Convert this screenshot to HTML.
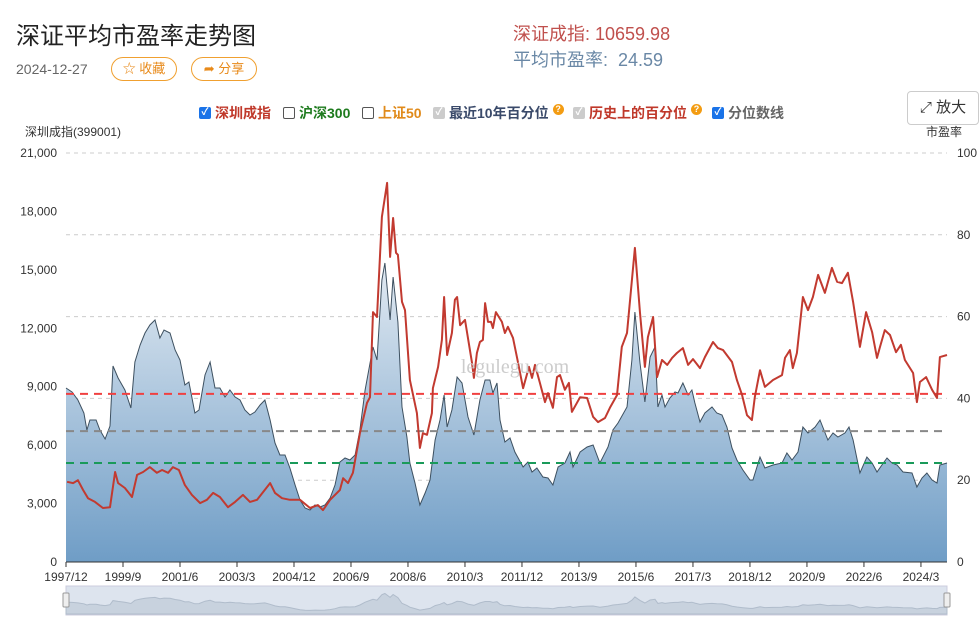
<!DOCTYPE html>
<html><head><meta charset="utf-8">
<style>
body{margin:0;width:979px;height:623px;overflow:hidden;background:#fff;font-family:"Liberation Sans","Noto Sans CJK SC",sans-serif;position:relative}
.abs{position:absolute}
.btn{position:absolute;border:1px solid #f0a030;border-radius:12px;color:#e88a1a;font-size:13px;height:22px;line-height:22px;text-align:center}
.lg{position:absolute;top:103px;font-size:14px;font-weight:bold;display:flex;align-items:center;gap:4px}
.cb{width:12px;height:12px;border:1px solid #555;border-radius:2px;display:inline-block;box-sizing:border-box}
.cb.on{background:#1a73e8;border-color:#1a73e8;color:#fff;font-size:10px;line-height:10px;text-align:center}
.cb.dis{background:#ccc;border-color:#ccc;color:#fff;font-size:10px;line-height:10px;text-align:center}
.q{display:inline-block;width:11px;height:11px;border-radius:6px;background:#f39c12;color:#fff;font-size:9px;line-height:11px;text-align:center;margin-top:-8px}
</style></head><body>
<div class="abs" style="left:16px;top:16px;font-size:24px;color:#222">深证平均市盈率走势图</div>
<div class="abs" style="left:16px;top:61px;font-size:14px;color:#666">2024-12-27</div>
<div class="btn" style="left:111px;top:57px;width:64px">☆ 收藏</div>
<div class="btn" style="left:191px;top:57px;width:64px">➦ 分享</div>
<div class="abs" style="left:513px;top:20px;font-size:18px;color:#c0504d">深证成指: 10659.98</div>
<div class="abs" style="left:513px;top:46px;font-size:18px;color:#6a88a6">平均市盈率:&nbsp; 24.59</div>
<div class="abs" style="left:907px;top:91px;width:70px;height:32px;border:1px solid #ccc;border-radius:4px;font-size:15px;line-height:32px;text-align:center;color:#333">⤢ 放大</div>
<div class="lg" style="left:199px;color:#c0392b"><span class="cb on">✓</span>深圳成指</div>
<div class="lg" style="left:283px;color:#1e7b1e"><span class="cb"></span>沪深300</div>
<div class="lg" style="left:362px;color:#e08a1a"><span class="cb"></span>上证50</div>
<div class="lg" style="left:433px;color:#3a4a6a"><span class="cb dis">✓</span>最近10年百分位<span class="q">?</span></div>
<div class="lg" style="left:573px;color:#c0392b"><span class="cb dis">✓</span>历史上的百分位<span class="q">?</span></div>
<div class="lg" style="left:712px;color:#666"><span class="cb on">✓</span>分位数线</div>
<div class="abs" style="left:25px;top:123px;font-size:12px;color:#333">深圳成指(399001)</div>
<div class="abs" style="left:926px;top:123px;font-size:12px;color:#333">市盈率</div>
<svg id="c" class="abs" style="left:0;top:0" width="979" height="623"></svg>
<script>
const idxMonths=[0,2.2,4.4,6.6,7.7,8.8,11.1,12.5,14.4,16.2,17.3,19.2,21.7,23.9,25.4,27.3,29.1,30.9,32.8,34.6,36.1,38.3,40.2,42,43.8,45.3,47.5,49,51.2,53.1,54.9,56.7,58.6,60.4,62.3,64.1,65.9,67.8,69.6,71.5,73.3,75.2,77,78.8,80.7,82.5,84.4,86.2,88.1,89.9,91.7,93.6,95.4,97.3,99.1,100.9,102.8,104.6,106.5,108.3,110.2,113.1,114.6,116.4,117.5,119.4,120.5,122.3,123.8,125.6,126.7,128.6,130.4,132.3,134.1,136,137.8,139.3,140.4,142.2,144.1,145.9,148.1,150.3,152.5,154.4,156.2,157.3,158.8,159.9,161.7,163.6,165.4,168.4,170.2,171.7,173.5,175.7,177.6,179.4,181.3,183.8,185.7,186.8,189.4,192,194.2,196.7,199.7,201.5,203.4,206.7,208.5,209.6,211.5,213.3,215.2,217,218.1,219.6,220.7,222.5,224.4,225.5,227.3,229.2,230.6,231.7,233.6,235.4,238,239.8,241.7,243.5,245.4,247.2,249.4,252,253.1,255.7,257.5,260.5,263.8,265.6,267.5,269.7,271.5,273.4,276,277.8,280.7,282.6,284.4,287,288.5,290,292.5,295.1,297,298.8,300.6,302.5,304.3,306.2,308.4,311.7,313.5,315.4,317.2,319.1,320.9,322,324.6];
const idxValues=[8933,8728,8317,7650,6777,7290,7290,6777,6315,6982,10063,9446,8830,7906,10268,11141,11757,12168,12424,11500,11911,11757,10884,10371,9087,9241,7650,7804,9601,10268,8933,8933,8471,8830,8471,8317,7804,7547,7701,8060,8317,7290,6109,5493,5493,4826,3953,3183,2772,2670,2926,2824,2926,3286,3953,5134,5339,5237,5493,6777,8830,11038,10371,14478,15351,12424,14632,12322,7958,6418,5083,4056,2926,3543,4210,6263,7290,8574,6931,7804,9498,9190,7444,6520,8317,9344,9344,8676,9190,7290,6161,6366,5647,4877,5134,4621,4826,4364,4313,3953,4877,5083,5647,4877,5647,5904,6007,5083,5904,6777,7136,7958,10371,12835,10217,8214,10525,11038,7958,8574,7958,8420,8728,8676,9190,8574,8830,8163,7188,7650,7958,7650,7547,6931,5853,5237,4723,4210,4210,5391,4826,4980,5083,5596,5237,5647,6931,6623,6931,7290,6263,6623,6418,6623,6931,6263,4569,5391,5083,4621,4980,5339,5083,4980,4621,4569,3851,4313,4569,4210,4056,4980,5083];
const peMonths=[0.4,2.6,4.4,6.3,8.1,10.7,13.6,16.2,18.1,19.2,21.7,24.3,26.2,28.4,30.9,33.5,35.4,37.6,39.4,41.6,43.8,46.4,49.4,51.9,54.2,56.7,59.7,62.3,65.2,67.8,70.4,75.2,77,79.6,82.5,86.2,89.9,92.8,94.7,97.3,100.9,102.1,103.9,105.7,108.3,110.9,112,113.1,114.6,116.4,118.3,119.4,120.5,121.6,122.3,123.8,124.9,126.7,129.3,130.4,131.5,133,134.8,135.2,137.1,138.5,139.3,140.4,142.2,143.3,144.1,145.2,147,149.6,150.3,151.4,152.5,153.6,154.4,155.5,156.6,157.3,158.4,160.6,161.7,162.8,164.7,166.2,168.4,170.6,171.7,172.8,174.6,176.5,177.6,179.4,180.9,182,183.8,185.3,186.4,189.4,192,194.2,196,198.6,200.4,203,204.8,206.7,209.6,211.5,213.3,214.4,216.3,217.8,219.6,221.5,223.3,225.1,227.3,229.2,231,233.6,235.4,238.4,240.2,242.1,245.4,247.2,249.1,250.9,252.7,253.8,255.7,257.5,260.5,263.8,264.9,266.7,267.8,269.3,271.5,273.4,275.2,277.1,279.6,282.2,284.1,285.9,288.1,290,292.5,294.8,297,298.8,299.9,301.7,303.6,305.8,307.6,309.1,312.1,313.5,314.6,316.9,319.1,320.9,322,324.6];
const peValues=[19.6,19.3,20,17.6,15.6,14.7,13.2,13.4,22,19.3,18.1,15.9,21.3,22,23.2,21.8,22.5,21.8,23.2,22.5,18.8,16.4,14.4,15.2,16.9,15.9,13.4,14.7,16.4,14.7,15.2,19.3,16.9,15.6,15.2,15.2,13.2,13.9,12.7,15.2,17.6,20.5,19.3,21.8,31.5,38.9,40.3,61.1,59.9,84.4,92.7,74.6,84.1,75.6,75.1,63.6,61.6,44.5,36.4,27.9,31.5,31.1,36.4,42.5,47.7,54.3,64.8,50.6,56,64.1,64.8,57.9,59.2,48.7,45,51.1,53.8,54.3,63.3,58.7,58.7,57.2,61.1,58.7,56,57.5,54.8,49.9,42.5,47.7,45,48.2,43.8,39.1,41.3,37.7,45.2,45.7,42.1,43.8,36.7,40.3,40.1,35.5,34.2,35.2,37.7,40.8,52.6,56,76.8,60.9,47.7,55,59.9,45.2,49.4,48.2,49.9,51.1,52.3,48.2,49.6,47.4,50.1,53.8,52.3,51.8,48.9,44.5,40.8,35.9,34.7,40.3,46.9,42.8,44.5,45.7,49.9,51.8,47.4,51.1,64.8,61.6,64.8,70.2,65.8,71.9,68.5,68.2,70.7,63.6,52.6,61.1,56.2,49.9,52.6,56.7,55.5,51.3,53.1,49.4,46.2,39.1,44,45.2,42.1,40.1,50.1,50.6];
const pctLines=[41.1,32.0,24.2];
const pctColors=['#f04040','#888','#1a9a5a'];
const leftTicks=[0,3000,6000,9000,12000,15000,18000,21000];
const rightTicks=[0,20,40,60,80,100];
const xLabels=['1997/12','1999/9','2001/6','2003/3','2004/12','2006/9','2008/6','2010/3','2011/12','2013/9','2015/6','2017/3','2018/12','2020/9','2022/6','2024/3'];
const xLabelMonths=[0,21,42,63,84,105,126,147,168,189,210,231,252,273,294,315];

const X0=66,X1=947,Y0=562,Y1=153,TOTAL=324.6;
const xs=m=>X0+(X1-X0)*m/TOTAL;
const yl=v=>Y0-(Y0-Y1)*v/21000;
const yr=v=>Y0-(Y0-Y1)*v/100;
const svg=document.getElementById('c');const NS='http://www.w3.org/2000/svg';
function mk(t,a){const e=document.createElementNS(NS,t);for(const k in a)e.setAttribute(k,a[k]);svg.appendChild(e);return e;}
svg.innerHTML='<defs><linearGradient id="g" x1="0" y1="0" x2="0" y2="1"><stop offset="0" stop-color="#e2eaf2"/><stop offset="1" stop-color="#6f9dc6"/></linearGradient><linearGradient id="g2" x1="0" y1="0" x2="0" y2="1"><stop offset="0" stop-color="#e8edf3"/><stop offset="1" stop-color="#d8e0ea"/></linearGradient></defs>';
rightTicks.forEach(v=>{
 const g=mk('line',{x1:X0,x2:X1,y1:yr(v),y2:yr(v),stroke:'#ccc','stroke-dasharray':'4,4'});
 
 const t=mk('text',{x:957,y:yr(v)+4,'font-size':12,fill:'#333'});t.textContent=v;
 
});
leftTicks.forEach(v=>{
 const t=mk('text',{x:57,y:yl(v)+4,'font-size':12,fill:'#333','text-anchor':'end'});t.textContent=v.toLocaleString('en-US');
 
});
let d='M'+xs(idxMonths[0])+','+Y0;
idxMonths.forEach((m,i)=>{d+=' L'+xs(m).toFixed(1)+','+yl(idxValues[i]).toFixed(1);});
d+=' L'+xs(idxMonths[idxMonths.length-1])+','+Y0+' Z';
const area=mk('path',{d:d,fill:'url(#g)',stroke:'none'});

const il=mk('path',{d:'M'+idxMonths.map((m,i)=>xs(m).toFixed(1)+','+yl(idxValues[i]).toFixed(1)).join(' L'),fill:'none',stroke:'#3d5060','stroke-width':1});

pctLines.forEach((v,i)=>{
 const l=mk('line',{x1:X0,x2:X1,y1:yr(v),y2:yr(v),stroke:pctColors[i],'stroke-width':2,'stroke-dasharray':'8,6'});
 
});
const pl=mk('path',{d:'M'+peMonths.map((m,i)=>xs(m).toFixed(1)+','+yr(peValues[i]).toFixed(1)).join(' L'),fill:'none',stroke:'#c23a30','stroke-width':2,'stroke-linejoin':'round'});

const wm=mk('text',{x:515,y:373,'font-size':20,fill:'#ccc','text-anchor':'middle','font-family':'Liberation Serif,serif'});wm.textContent='legulegu.com';

const ax=mk('line',{x1:X0,x2:X1,y1:Y0,y2:Y0,stroke:'#333'});

xLabels.forEach((s,i)=>{
 const x=xs(xLabelMonths[i]);
 const tk=mk('line',{x1:x,x2:x,y1:Y0,y2:Y0+5,stroke:'#333'});
 
 const t=mk('text',{x:x,y:581,'font-size':12,fill:'#333','text-anchor':'middle'});t.textContent=s;
 
});
// navigator
const nb=mk('rect',{x:X0,y:586,width:X1-X0,height:29,fill:'#dde4ee',stroke:'#ccd'});

let nd='M'+X0+',614';
idxMonths.forEach((m,i)=>{nd+=' L'+xs(m).toFixed(1)+','+(614-idxValues[i]/21000*28).toFixed(1);});
nd+=' L'+X1+',614 Z';
const na=mk('path',{d:nd,fill:'#c8d2de',stroke:'#b0bccb'});

[X0,X1].forEach(x=>{
 const h=mk('rect',{x:x-3,y:593,width:6,height:14,fill:'#eee',stroke:'#999',rx:1});
 
});
</script>
</body></html>
